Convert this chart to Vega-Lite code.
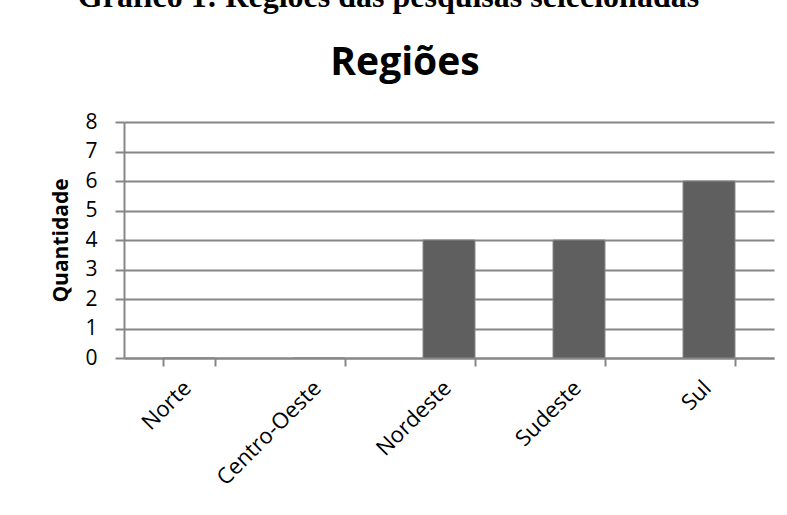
{
  "$schema": "https://vega.github.io/schema/vega-lite/v6.json",
  "padding": {"left": 50, "top": -19, "right": 5, "bottom": 5},
  "background": "white",
  "title": {
    "text": "Gráfico 1: Regiões das pesquisas selecionadas",
    "font": "Liberation Serif",
    "fontSize": 32,
    "fontWeight": "bold",
    "color": "black",
    "anchor": "middle",
    "dx": -24,
    "dy": -30,
    "offset": 0
  },
  "vconcat": [
    {
      "width": 650,
      "height": 236,
      "title": {
        "text": "Regiões",
        "font": "Open Sans",
        "fontSize": 39,
        "fontWeight": "bold",
        "color": "black",
        "anchor": "middle",
        "dx": -44,
        "offset": 28
      },
      "data": {
        "values": [
          {"regiao": "Norte", "quantidade": 0},
          {"regiao": "Centro-Oeste", "quantidade": 0},
          {"regiao": "Nordeste", "quantidade": 4},
          {"regiao": "Sudeste", "quantidade": 4},
          {"regiao": "Sul", "quantidade": 6}
        ]
      },
      "mark": {"type": "bar", "color": "#5f5f5f", "stroke": "#8a8a8a", "strokeWidth": 1},
      "encoding": {
        "x": {
          "field": "regiao",
          "type": "nominal",
          "sort": null,
          "scale": {"paddingInner": 0.6, "paddingOuter": 0.3},
          "axis": {
            "title": null,
            "labelAngle": -45,
            "labelAlign": "right",
            "labelBaseline": "top",
            "labelPadding": 11,
            "labelOffset": -9,
            "labelFont": "Open Sans",
            "labelFontSize": 22,
            "labelColor": "black",
            "labelOverlap": false,
            "tickBand": "extent",
            "tickSize": 8,
            "tickColor": "#868686",
            "tickWidth": 2,
            "domainColor": "#868686",
            "domainWidth": 2
          }
        },
        "y": {
          "field": "quantidade",
          "type": "quantitative",
          "scale": {"domain": [0, 8]},
          "axis": {
            "title": "Quantidade",
            "titleFont": "Open Sans",
            "titleFontSize": 21,
            "titleFontWeight": "bold",
            "titleColor": "black",
            "titlePadding": 13,
            "values": [0, 1, 2, 3, 4, 5, 6, 7, 8],
            "labelOverlap": false,
            "labelFont": "Open Sans",
            "labelFontSize": 21,
            "labelColor": "black",
            "labelPadding": 18,
            "tickSize": 9,
            "tickColor": "#868686",
            "tickWidth": 2,
            "gridColor": "#868686",
            "gridWidth": 2,
            "domainColor": "#868686",
            "domainWidth": 2
          }
        }
      }
    }
  ],
  "config": {"view": {"stroke": null}}
}
